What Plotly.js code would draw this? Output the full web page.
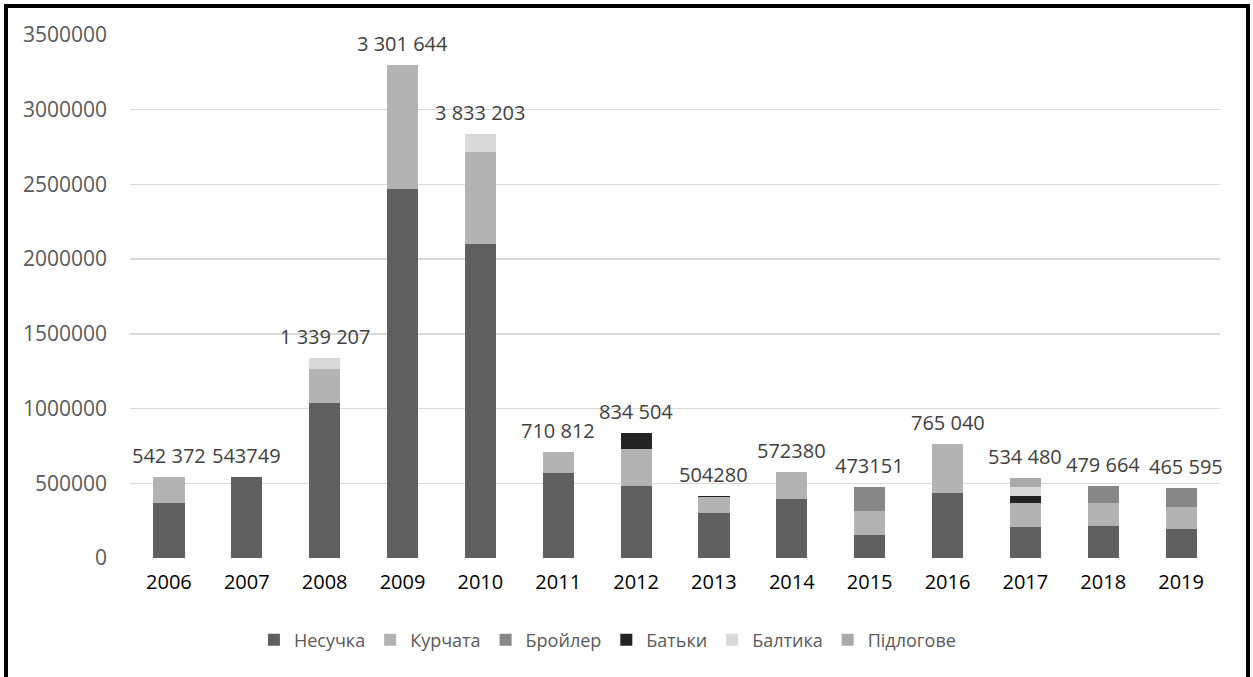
<!DOCTYPE html>
<html>
<head>
<meta charset="utf-8">
<script src="https://cdn.plot.ly/plotly-3.0.1.min.js"></script>
<style>
  html, body { margin: 0; padding: 0; background: #ffffff; }
  #chart { position: absolute; left: 0; top: 0; width: 1253px; height: 677px; }
  #frame { position: absolute; left: 4px; top: 4px; width: 1246px; height: 720px;
           box-sizing: border-box; border: 4px solid #000; pointer-events: none; }
</style>
</head>
<body>
<div id="chart"></div>
<div id="frame"></div>
<script>
const years = ['2006','2007','2008','2009','2010','2011','2012','2013','2014','2015','2016','2017','2018','2019'];
const nesuchka  = [365000, 543749, 1035000, 2472000, 2100000, 570000, 484000, 299000, 395000, 154000, 435000, 205000, 216000, 192000];
const kurchata  = [177372, 0, 228000, 829644, 616000, 140812, 244000, 107000, 177380, 161000, 330040, 161000, 150000, 147000];
const broiler   = [0, 0, 0, 0, 0, 0, 0, 0, 0, 158151, 0, 0, 113664, 126595];
const batky     = [0, 0, 0, 0, 0, 0, 106504, 11000, 0, 0, 0, 51000, 0, 0];
const baltyka   = [0, 0, 76207, 0, 120000, 0, 0, 0, 0, 0, 0, 56000, 0, 0];
const pidlogove = [0, 0, 0, 0, 0, 0, 0, 0, 0, 0, 0, 61480, 0, 0];
const totalLabels = ['542 372','543749','1 339 207','3 301 644','3 833 203','710 812','834 504','504280','572380','473151','765 040','534 480','479 664','465 595'];

const seriesNames  = ['Несучка','Курчата','Бройлер','Батьки','Балтика','Підлогове'];
const seriesValues = [nesuchka, kurchata, broiler, batky, baltyka, pidlogove];
const seriesColors = ['#5f5f5f','#b3b3b3','#878787','#232323','#d9d9d9','#a9a9a9'];

const traces = seriesNames.map((name, i) => ({
  type: 'bar',
  name: name,
  x: years,
  y: seriesValues[i],
  marker: { color: seriesColors[i], line: { width: 0 } },
  hoverinfo: 'name+y'
}));

const stackTotals = years.map((_, j) => seriesValues.reduce((s, arr) => s + arr[j], 0));

const annotations = years.map((yr, j) => ({
  x: j, y: stackTotals[j], xref: 'x', yref: 'y',
  text: totalLabels[j], showarrow: false,
  yanchor: 'bottom', xanchor: 'center', yshift: 6,
  xshift: (j === years.length - 1) ? 5 : 0,
  font: { family: 'Open Sans, Noto Sans, sans-serif', size: 20, color: '#404040' }
}));

const layout = {
  width: 1253, height: 677,
  margin: { l: 130, r: 33, t: 35, b: 119 },
  paper_bgcolor: '#ffffff', plot_bgcolor: '#ffffff',
  barmode: 'stack',
  bargap: 0.6,
  showlegend: true,
  legend: {
    orientation: 'h', traceorder: 'normal',
    x: 0.438, xanchor: 'center', y: -0.157, yanchor: 'middle',
    font: { family: 'Open Sans, Noto Sans, sans-serif', size: 18, color: '#595959' },
    itemwidth: 30
  },
  xaxis: {
    type: 'category', range: [-0.5, 13.5], autorange: false,
    showgrid: false, zeroline: false, showline: false, ticks: '',
    ticklabelstandoff: 10,
    tickfont: { family: 'Open Sans, Noto Sans, sans-serif', size: 20, color: '#000000' }
  },
  yaxis: {
    range: [0, 3500000], autorange: false, dtick: 500000, tick0: 0, tickformat: 'd',
    showgrid: true, gridcolor: '#d9d9d9', gridwidth: 1.3,
    zeroline: true, zerolinecolor: 'rgba(0,0,0,0)',
    showline: false, ticks: '',
    ticklabelstandoff: 22,
    tickfont: { family: 'Open Sans, Noto Sans, sans-serif', size: 21, color: '#595959' }
  },
  annotations: annotations
};

Plotly.newPlot('chart', traces, layout, { displayModeBar: false, staticPlot: true });
</script>
</body>
</html>
